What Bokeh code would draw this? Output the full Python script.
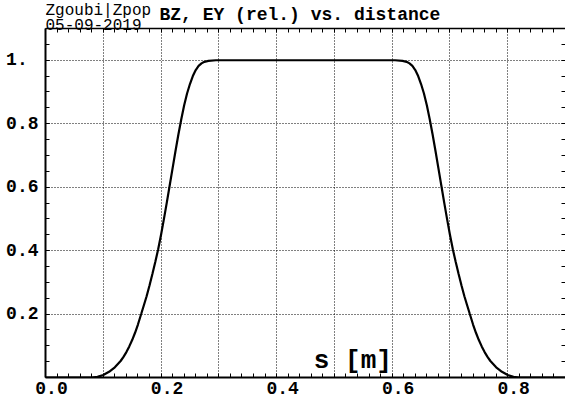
from bokeh.plotting import figure
from bokeh.models import (Range1d, LinearAxis, FixedTicker, Label, BoxAnnotation,
                          NumeralTickFormatter)
from bokeh.embed import file_html
from bokeh.resources import INLINE

# ---------------- data ----------------
s_rise = [0.000, 0.080, 0.090, 0.100, 0.110, 0.120, 0.130, 0.135, 0.140, 0.145,
          0.150, 0.155, 0.160, 0.1656, 0.170, 0.175, 0.180, 0.185, 0.190, 0.195,
          0.200, 0.205, 0.210, 0.215, 0.220, 0.225, 0.230, 0.235, 0.240, 0.245,
          0.250, 0.255, 0.260, 0.265, 0.270, 0.275, 0.282, 0.295]
b_rise = [0.000, 0.000, 0.002, 0.008, 0.018, 0.032, 0.052, 0.065, 0.080, 0.098,
          0.118, 0.141, 0.167, 0.200, 0.226, 0.256, 0.290, 0.326, 0.364, 0.404,
          0.450, 0.500, 0.552, 0.606, 0.660, 0.714, 0.766, 0.814, 0.858, 0.895,
          0.925, 0.950, 0.969, 0.982, 0.990, 0.995, 0.998, 1.000]
s_fall = [0.605, 0.618, 0.625, 0.630, 0.635, 0.640, 0.645, 0.650, 0.655, 0.660,
          0.665, 0.670, 0.675, 0.680, 0.685, 0.690, 0.695, 0.700, 0.705, 0.710,
          0.715, 0.720, 0.725, 0.730, 0.7344, 0.740, 0.745, 0.750, 0.755, 0.760,
          0.765, 0.770, 0.780, 0.790, 0.800, 0.810, 0.820, 0.900]
b_fall = [1.000, 0.998, 0.995, 0.990, 0.982, 0.969, 0.950, 0.925, 0.895, 0.858,
          0.814, 0.766, 0.714, 0.660, 0.606, 0.552, 0.500, 0.450, 0.404, 0.364,
          0.326, 0.290, 0.256, 0.226, 0.200, 0.167, 0.141, 0.118, 0.098, 0.080,
          0.065, 0.052, 0.032, 0.018, 0.008, 0.002, 0.000, 0.000]

title_text = "BZ, EY (rel.) vs. distance"
stamp_line1 = "Zgoubi|Zpop"
stamp_line2 = "05-09-2019"
x_axis_title = "s [m]"

x_tick_values = [0.0, 0.2, 0.4, 0.6, 0.8]
x_tick_labels = ["0.0", "0.2", "0.4", "0.6", "0.8"]
y_tick_values = [0.2, 0.4, 0.6, 0.8, 1.0]
y_tick_labels = ["0.2", "0.4", "0.6", "0.8", "1."]
x_grid_values = [0.1, 0.2, 0.3, 0.4, 0.5, 0.6, 0.7, 0.8]

X_MAX = 0.9
Y_MAX = 1.1           # top of the boxed plot area

# tick positions (styling)
x_minor = [round(i * 0.02, 2) for i in range(46)]
y_minor = [round(i * 0.05, 2) for i in range(23)]

MONO = "Liberation Mono"

# layout: frame covers 0..377 px vertically; boxed area is 28..377 px
FRAME_H = 377
BOX_H = 349
y_view_top = Y_MAX * FRAME_H / BOX_H

p = figure(width=565, height=402, output_backend="svg", toolbar_location=None,
           x_range=Range1d(0, X_MAX), y_range=Range1d(0, y_view_top),
           min_border_left=45, min_border_right=0, min_border_top=0,
           min_border_bottom=25)
p.background_fill_color = "white"
p.border_fill_color = "white"
p.outline_line_color = None

# grid
p.xgrid.ticker = FixedTicker(ticks=x_grid_values)
p.ygrid.ticker = FixedTicker(ticks=y_tick_values)
for g in (p.xgrid, p.ygrid):
    g.grid_line_color = "black"
    g.grid_line_dash = "1 2"
    g.grid_line_width = 1

# blank the strip above the box (title area)
p.add_layout(BoxAnnotation(bottom=Y_MAX, fill_color="white", fill_alpha=1.0,
                           line_color=None, level="underlay"))

# curve
p.line(s_rise + s_fall, b_rise + b_fall, line_color="black", line_width=2.2)

# bottom axis: line + ticks only
bx = p.xaxis[0]
bx.ticker = FixedTicker(ticks=[], minor_ticks=x_minor)
bx.major_label_standoff = 0
bx.major_tick_in = 0
bx.major_tick_out = 0
bx.minor_tick_in = 4
bx.minor_tick_out = 0
bx.axis_line_width = 2
bx.minor_tick_line_width = 1

# bottom labels axis (labels printed slightly right of the tick, as in the original)
p.extra_x_ranges = {"lab": Range1d(-0.0104, X_MAX - 0.0104)}
lab_axis = LinearAxis(x_range_name="lab",
                      ticker=FixedTicker(ticks=x_tick_values, minor_ticks=[]),
                      formatter=NumeralTickFormatter(format="0.0"),
                      major_label_overrides=dict(zip(x_tick_values, x_tick_labels)),
                      axis_line_color=None, major_tick_line_color=None,
                      minor_tick_line_color=None, major_label_standoff=4,
                      major_tick_in=0, major_tick_out=0,
                      minor_tick_in=0, minor_tick_out=0)
lab_axis.major_label_text_font = MONO
lab_axis.major_label_text_font_style = "bold"
lab_axis.major_label_text_font_size = "18px"
lab_axis.major_label_text_color = "black"
p.add_layout(lab_axis, "below")

# left axis
ly = p.yaxis[0]
ly.bounds = (0, Y_MAX)
ly.ticker = FixedTicker(ticks=y_tick_values, minor_ticks=y_minor)
ly.formatter = NumeralTickFormatter(format="0.0")
ly.major_label_overrides = {v: (t + "\u00a0" if len(t) < 3 else t)
                            for v, t in zip(y_tick_values, y_tick_labels)}
ly.major_label_text_font = MONO
ly.major_label_text_font_style = "bold"
ly.major_label_text_font_size = "18px"
ly.major_label_text_color = "black"
ly.major_label_standoff = 7
ly.major_tick_in = 4
ly.major_tick_out = 0
ly.minor_tick_in = 4
ly.minor_tick_out = 0
ly.axis_line_width = 2

# top edge of the box: line + ticks
top = LinearAxis(ticker=FixedTicker(ticks=[], minor_ticks=x_minor),
                 fixed_location=Y_MAX, major_label_standoff=0,
                 major_tick_in=0, major_tick_out=0, minor_tick_in=4, minor_tick_out=0,
                 axis_line_width=1.5)
p.add_layout(top, "above")

# right axis: ticks only
right = LinearAxis(ticker=FixedTicker(ticks=[], minor_ticks=y_minor),
                   bounds=(0, Y_MAX), major_label_standoff=0,
                   major_tick_in=0, major_tick_out=0, minor_tick_in=4, minor_tick_out=0,
                   axis_line_color=None)
p.add_layout(right, "right")

# texts above the box
p.add_layout(Label(x=0, y=Y_MAX, text=stamp_line1, x_offset=0, y_offset=17.8,
                   text_font=MONO, text_font_size="16px",
                   text_baseline="alphabetic", text_align="left", text_color="black"))
p.add_layout(Label(x=0, y=Y_MAX, text=stamp_line2, x_offset=0, y_offset=3.9,
                   text_font=MONO, text_font_size="16px",
                   text_baseline="alphabetic", text_align="left", text_color="black"))
p.add_layout(Label(x=0, y=Y_MAX, text=title_text, x_offset=114, y_offset=14.0,
                   text_font=MONO, text_font_style="bold", text_font_size="18px",
                   text_baseline="alphabetic", text_align="left", text_color="black"))

# axis title drawn inside the box
p.add_layout(Label(x=0.532, y=0, text=x_axis_title, y_offset=17,
                   text_font=MONO, text_font_style="bold", text_font_size="26px",
                   text_baseline="alphabetic", text_align="center",
                   text_color="black"))

open("out.html", "w").write(file_html(p, INLINE))
